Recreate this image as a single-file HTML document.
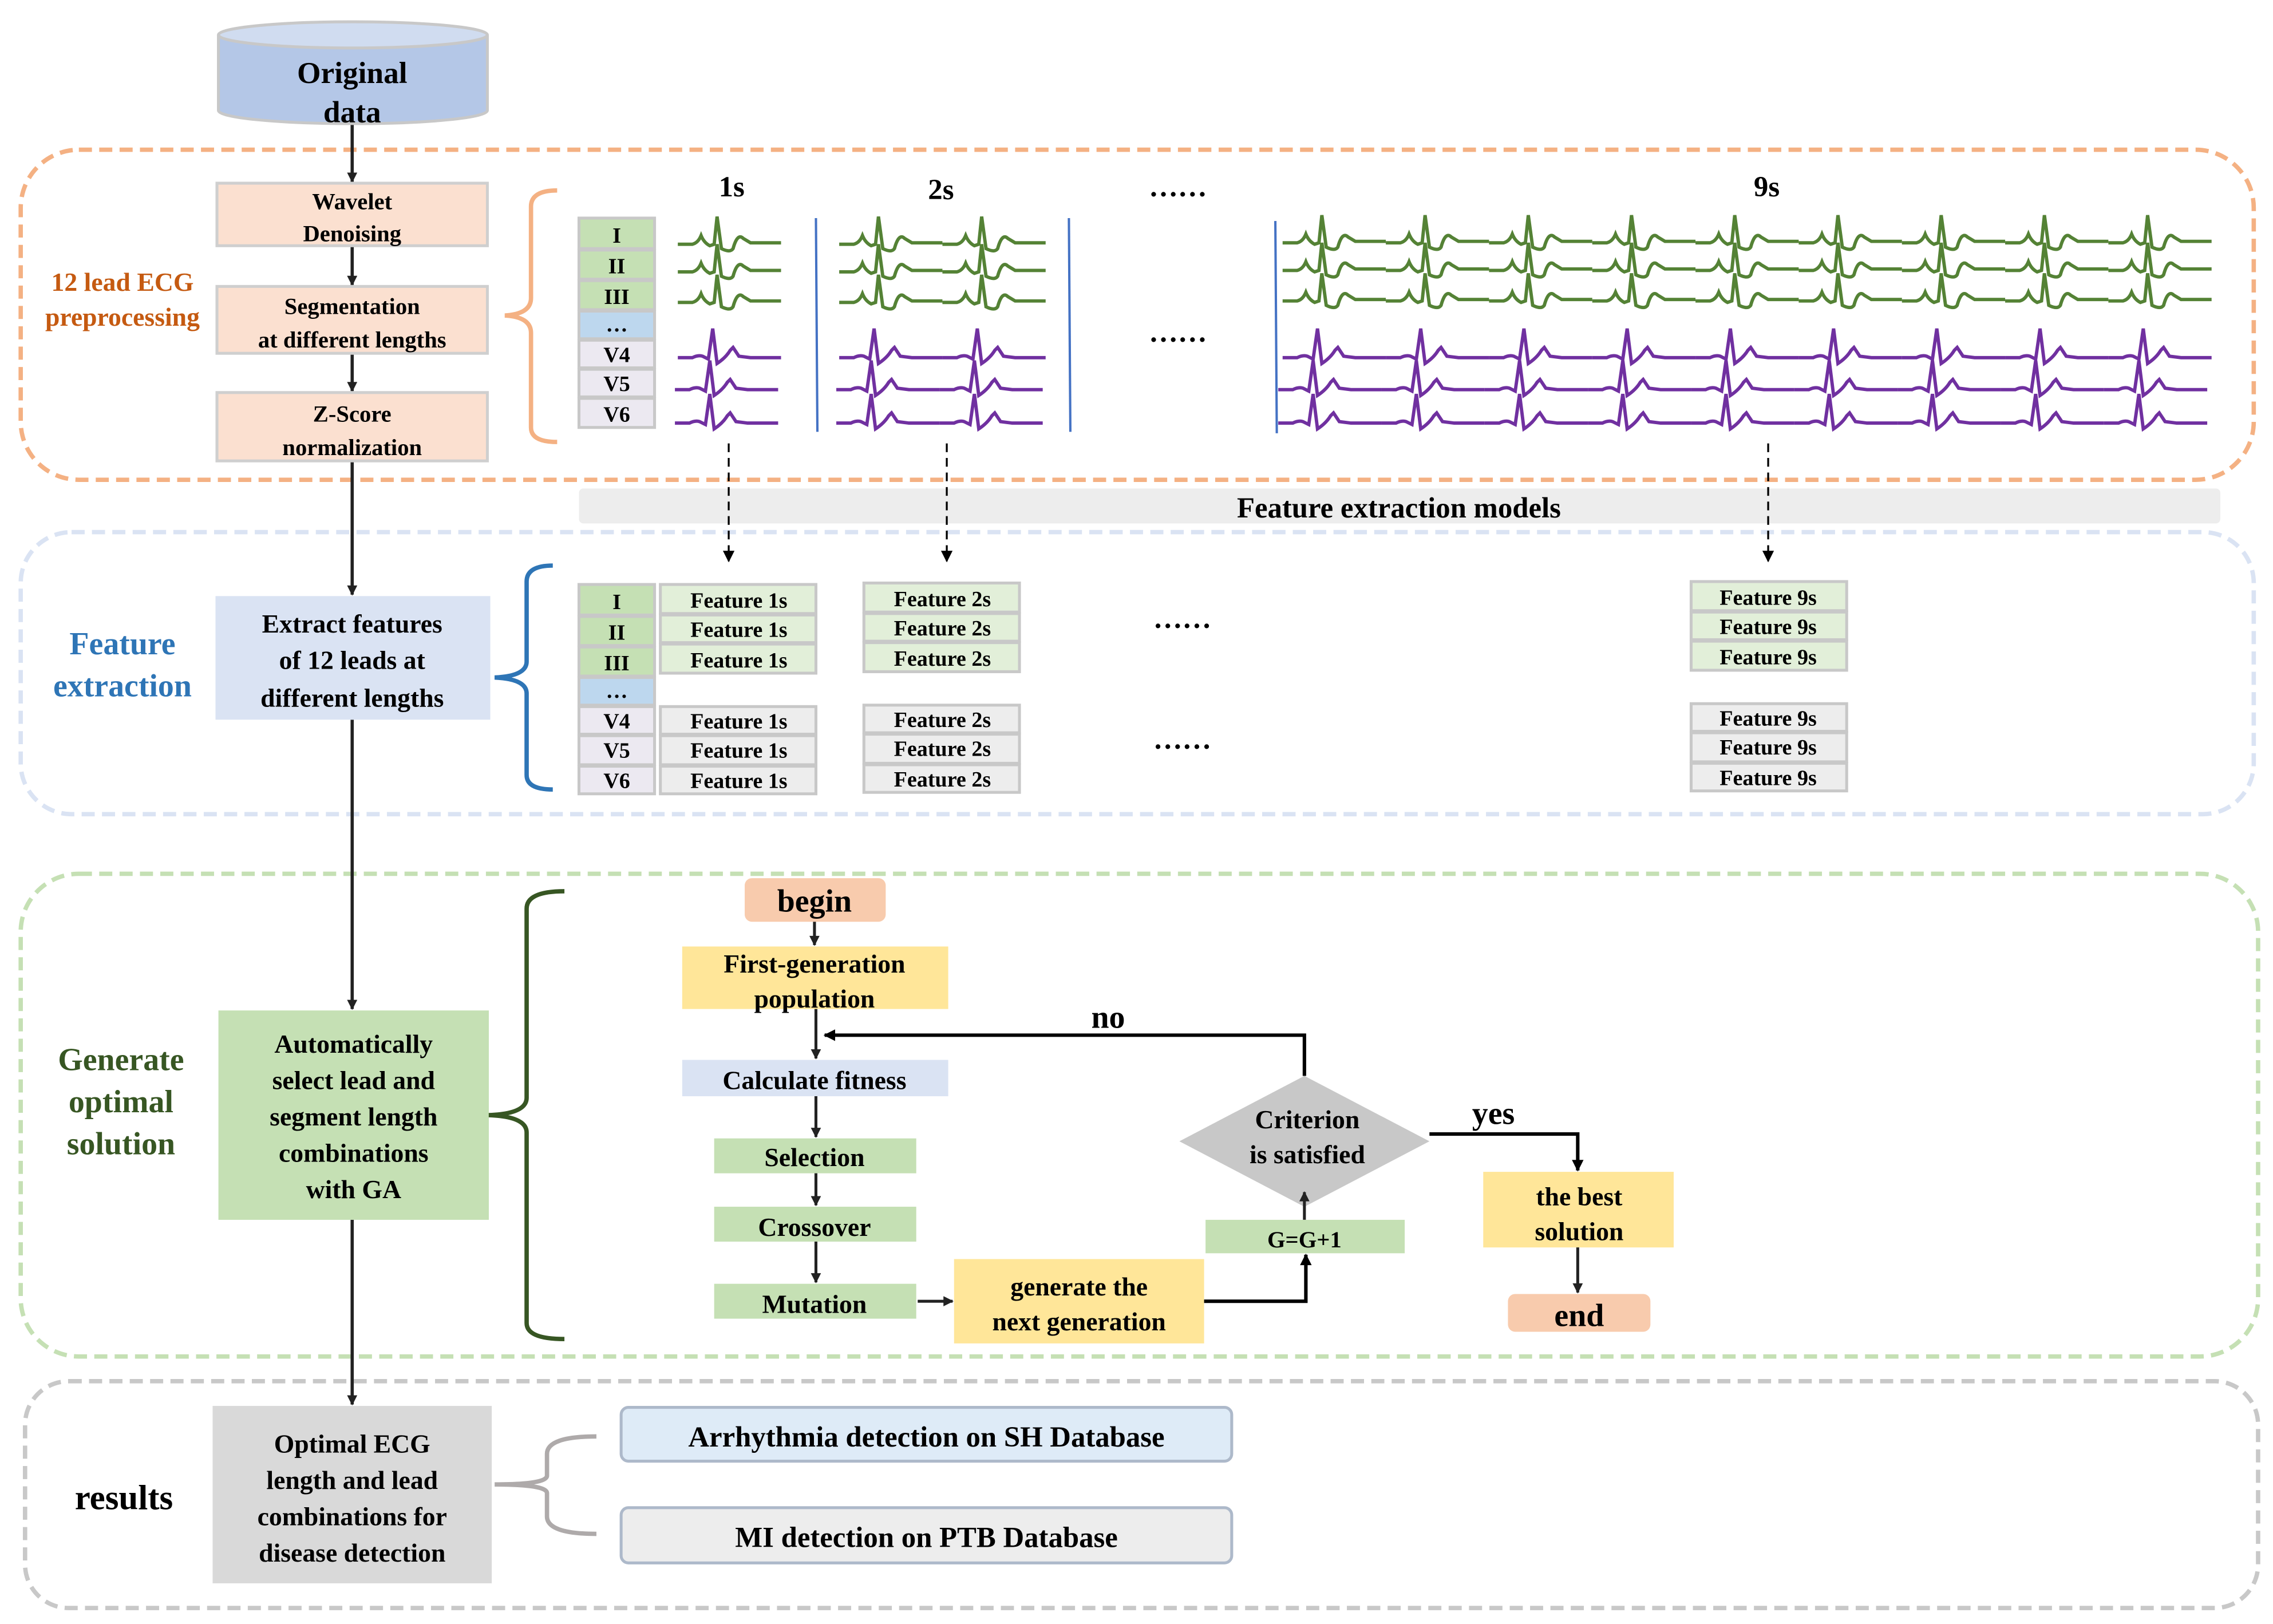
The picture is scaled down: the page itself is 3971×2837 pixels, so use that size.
<!DOCTYPE html>
<html><head><meta charset="utf-8"><style>
html,body{margin:0;padding:0;background:#fff}
svg{display:block}
text{font-family:"Liberation Serif","Times New Roman",serif;font-weight:bold;fill:#000;text-anchor:middle}
</style></head><body>
<svg width="3971" height="2837" viewBox="0 0 1563 1117" xmlns="http://www.w3.org/2000/svg">
<defs>
<marker id="ah" viewBox="0 0 10 10" refX="9" refY="5" markerWidth="9" markerHeight="7" orient="auto" markerUnits="userSpaceOnUse"><path d="M0,0 L10,5 L0,10 z" fill="#222"/></marker>
<marker id="ah2" viewBox="0 0 10 10" refX="9" refY="5" markerWidth="10" markerHeight="8" orient="auto" markerUnits="userSpaceOnUse"><path d="M0,0 L10,5 L0,10 z" fill="#000"/></marker>
<path id="bg" d="M0,0 L10,0 Q14,-1 16,-6 Q18,-1 22,1 L25,0 L27,-19 L30,3 Q36,6 38,3 Q41,-8 45,-4 L50,-1 L71,-1" fill="none" stroke="#548235" stroke-width="2.3"/>
<path id="bp" d="M0,0 L10,0 Q14,-2 17,-1 L21,1 L24,-20 L27,4 Q33,0 36,-5 L38,-7 L42,-1 L50,0 L71,0" fill="none" stroke="#7030a0" stroke-width="2.3"/>
</defs>

<rect x="14" y="103" width="1536" height="227" rx="40" fill="none" stroke="#f4b183" stroke-width="3" stroke-dasharray="9,5"/>
<rect x="14" y="366" width="1536" height="194" rx="35" fill="none" stroke="#dae3f3" stroke-width="3" stroke-dasharray="9,5"/>
<rect x="14" y="601" width="1539" height="332" rx="40" fill="none" stroke="#c5e0b4" stroke-width="3" stroke-dasharray="9,5"/>
<rect x="17" y="950" width="1536" height="156" rx="30" fill="none" stroke="#c8c8c8" stroke-width="3" stroke-dasharray="9,5"/>

<path d="M150,24 L150,76 A92,9 0 0 0 335,76 L335,24" fill="#b4c7e7" stroke="#c8c8c8" stroke-width="2"/>
<ellipse cx="242.5" cy="24" rx="92.5" ry="9" fill="#d0dcf0" stroke="#c8c8c8" stroke-width="2"/>
<text x="242" y="57" font-size="21">Original</text>
<text x="242" y="84" font-size="21">data</text>

<g stroke="#222" stroke-width="2.2" fill="none">
<line x1="242" y1="86" x2="242" y2="125" marker-end="url(#ah)"/>
<line x1="242" y1="169" x2="242" y2="196" marker-end="url(#ah)"/>
<line x1="242" y1="243" x2="242" y2="269" marker-end="url(#ah)"/>
<line x1="242" y1="317" x2="242" y2="409" marker-end="url(#ah)"/>
<line x1="242" y1="495" x2="242" y2="694" marker-end="url(#ah)"/>
<line x1="242" y1="839" x2="242" y2="966" marker-end="url(#ah)"/>
</g>

<g fill="#fbe0d0" stroke="#cfcfcf" stroke-width="2">
<rect x="149" y="126" width="186" height="43"/>
<rect x="149" y="197" width="186" height="46"/>
<rect x="149" y="270" width="186" height="47"/>
</g>
<text x="242" y="144" font-size="16">Wavelet</text>
<text x="242" y="166" font-size="16">Denoising</text>
<text x="242" y="216" font-size="16">Segmentation</text>
<text x="242" y="239" font-size="16">at different lengths</text>
<text x="242" y="290" font-size="16">Z-Score</text>
<text x="242" y="313" font-size="16">normalization</text>
<text x="84" y="200" font-size="18" style="fill:#c55a11">12 lead ECG</text>
<text x="84" y="224" font-size="18" style="fill:#c55a11">preprocessing</text>
<path d="M383,131 Q365,131 365,142 L365,205 Q365,216 347,217 Q365,218 365,229 L365,294 Q365,304 383,304" fill="none" stroke="#f4b183" stroke-width="3"/>

<g stroke="#c8c8c8" stroke-width="2">
<rect x="398" y="150" width="52" height="21" fill="#c5e0b4"/>
<rect x="398" y="172" width="52" height="20" fill="#c5e0b4"/>
<rect x="398" y="193" width="52" height="20" fill="#c5e0b4"/>
<rect x="398" y="214" width="52" height="19" fill="#bdd7ee"/>
<rect x="398" y="234" width="52" height="19" fill="#ece9f1"/>
<rect x="398" y="254" width="52" height="19" fill="#ece9f1"/>
<rect x="398" y="274" width="52" height="20" fill="#ece9f1"/>
</g>
<g font-size="15">
<text x="424" y="167">I</text><text x="424" y="188">II</text><text x="424" y="209">III</text>
<text x="424" y="228">…</text><text x="424" y="249">V4</text><text x="424" y="269">V5</text><text x="424" y="290">V6</text>
</g>

<text x="503" y="135" font-size="20">1s</text>
<text x="647" y="137" font-size="20">2s</text>
<text x="810" y="135" font-size="20">……</text>
<text x="810" y="235" font-size="20">……</text>
<text x="1215" y="135" font-size="20">9s</text>

<g stroke="#4472c4" stroke-width="1.6">
<line x1="561" y1="150" x2="562" y2="297"/>
<line x1="735" y1="150" x2="736" y2="297"/>
<line x1="877" y1="152" x2="878" y2="298"/>
</g>

<use href="#bg" x="466" y="168"/><use href="#bg" x="466" y="187"/><use href="#bg" x="466" y="208"/>
<use href="#bp" x="466" y="246"/><use href="#bp" x="464" y="268"/><use href="#bp" x="464" y="291"/>
<use href="#bg" x="577" y="168"/><use href="#bg" x="648" y="168"/>
<use href="#bg" x="577" y="187"/><use href="#bg" x="648" y="187"/>
<use href="#bg" x="577" y="208"/><use href="#bg" x="648" y="208"/>
<use href="#bp" x="577" y="246"/><use href="#bp" x="648" y="246"/>
<use href="#bp" x="575" y="268"/><use href="#bp" x="646" y="268"/>
<use href="#bp" x="575" y="291"/><use href="#bp" x="646" y="291"/>
<g>
<use href="#bg" x="882" y="167"/><use href="#bg" x="953" y="167"/><use href="#bg" x="1024" y="167"/><use href="#bg" x="1095" y="167"/><use href="#bg" x="1166" y="167"/><use href="#bg" x="1237" y="167"/><use href="#bg" x="1308" y="167"/><use href="#bg" x="1379" y="167"/><use href="#bg" x="1450" y="167"/>
<use href="#bg" x="882" y="186"/><use href="#bg" x="953" y="186"/><use href="#bg" x="1024" y="186"/><use href="#bg" x="1095" y="186"/><use href="#bg" x="1166" y="186"/><use href="#bg" x="1237" y="186"/><use href="#bg" x="1308" y="186"/><use href="#bg" x="1379" y="186"/><use href="#bg" x="1450" y="186"/>
<use href="#bg" x="882" y="207"/><use href="#bg" x="953" y="207"/><use href="#bg" x="1024" y="207"/><use href="#bg" x="1095" y="207"/><use href="#bg" x="1166" y="207"/><use href="#bg" x="1237" y="207"/><use href="#bg" x="1308" y="207"/><use href="#bg" x="1379" y="207"/><use href="#bg" x="1450" y="207"/>
<use href="#bp" x="882" y="246"/><use href="#bp" x="953" y="246"/><use href="#bp" x="1024" y="246"/><use href="#bp" x="1095" y="246"/><use href="#bp" x="1166" y="246"/><use href="#bp" x="1237" y="246"/><use href="#bp" x="1308" y="246"/><use href="#bp" x="1379" y="246"/><use href="#bp" x="1450" y="246"/>
<use href="#bp" x="879" y="268"/><use href="#bp" x="950" y="268"/><use href="#bp" x="1021" y="268"/><use href="#bp" x="1092" y="268"/><use href="#bp" x="1163" y="268"/><use href="#bp" x="1234" y="268"/><use href="#bp" x="1305" y="268"/><use href="#bp" x="1376" y="268"/><use href="#bp" x="1447" y="268"/>
<use href="#bp" x="879" y="291"/><use href="#bp" x="950" y="291"/><use href="#bp" x="1021" y="291"/><use href="#bp" x="1092" y="291"/><use href="#bp" x="1163" y="291"/><use href="#bp" x="1234" y="291"/><use href="#bp" x="1305" y="291"/><use href="#bp" x="1376" y="291"/><use href="#bp" x="1447" y="291"/>
</g>

<rect x="398" y="336" width="1129" height="24" rx="3" fill="#ededed"/>
<text x="962" y="356" font-size="20">Feature extraction models</text>
<g stroke="#000" stroke-width="1.3" stroke-dasharray="6,4" fill="none">
<line x1="501" y1="305" x2="501" y2="386" marker-end="url(#ah2)"/>
<line x1="651" y1="305" x2="651" y2="386" marker-end="url(#ah2)"/>
<line x1="1216" y1="305" x2="1216" y2="386" marker-end="url(#ah2)"/>
</g>

<rect x="148" y="410" width="189" height="85" fill="#dae3f3"/>
<text x="242" y="435" font-size="18">Extract features</text>
<text x="242" y="460" font-size="18">of 12 leads at</text>
<text x="242" y="486" font-size="18">different lengths</text>
<text x="84" y="450" font-size="22" style="fill:#2e75b6">Feature</text>
<text x="84" y="479" font-size="22" style="fill:#2e75b6">extraction</text>
<path d="M380,389 Q362,389 362,400 L362,455 Q362,465 340,466 Q362,467 362,477 L362,533 Q362,543 380,543" fill="none" stroke="#2e75b6" stroke-width="3"/>

<g stroke="#c8c8c8" stroke-width="2">
<rect x="398" y="402" width="52" height="21" fill="#c5e0b4"/>
<rect x="398" y="424" width="52" height="20" fill="#c5e0b4"/>
<rect x="398" y="445" width="52" height="20" fill="#c5e0b4"/>
<rect x="398" y="466" width="52" height="19" fill="#bdd7ee"/>
<rect x="398" y="486" width="52" height="19" fill="#ece9f1"/>
<rect x="398" y="506" width="52" height="20" fill="#ece9f1"/>
<rect x="398" y="527" width="52" height="19" fill="#ece9f1"/>
</g>
<g font-size="15">
<text x="424" y="419">I</text><text x="424" y="440">II</text><text x="424" y="461">III</text>
<text x="424" y="480">…</text><text x="424" y="501">V4</text><text x="424" y="521">V5</text><text x="424" y="542">V6</text>
</g>

<g stroke="#c8c8c8" stroke-width="2">
<rect x="454" y="402" width="107" height="20" fill="#e2efd9"/><rect x="454" y="423" width="107" height="19" fill="#e2efd9"/><rect x="454" y="443" width="107" height="20" fill="#e2efd9"/>
<rect x="454" y="486" width="107" height="19" fill="#ededed"/><rect x="454" y="506" width="107" height="20" fill="#ededed"/><rect x="454" y="527" width="107" height="19" fill="#ededed"/>
<rect x="594" y="401" width="107" height="20" fill="#e2efd9"/><rect x="594" y="422" width="107" height="19" fill="#e2efd9"/><rect x="594" y="442" width="107" height="20" fill="#e2efd9"/>
<rect x="594" y="485" width="107" height="19" fill="#ededed"/><rect x="594" y="505" width="107" height="20" fill="#ededed"/><rect x="594" y="526" width="107" height="19" fill="#ededed"/>
<rect x="1163" y="400" width="107" height="20" fill="#e2efd9"/><rect x="1163" y="421" width="107" height="19" fill="#e2efd9"/><rect x="1163" y="441" width="107" height="20" fill="#e2efd9"/>
<rect x="1163" y="484" width="107" height="19" fill="#ededed"/><rect x="1163" y="504" width="107" height="20" fill="#ededed"/><rect x="1163" y="525" width="107" height="19" fill="#ededed"/>
</g>
<g font-size="15">
<text x="508" y="418">Feature 1s</text><text x="508" y="438">Feature 1s</text><text x="508" y="459">Feature 1s</text>
<text x="508" y="501">Feature 1s</text><text x="508" y="521">Feature 1s</text><text x="508" y="542">Feature 1s</text>
<text x="648" y="417">Feature 2s</text><text x="648" y="437">Feature 2s</text><text x="648" y="458">Feature 2s</text>
<text x="648" y="500">Feature 2s</text><text x="648" y="520">Feature 2s</text><text x="648" y="541">Feature 2s</text>
<text x="1216" y="416">Feature 9s</text><text x="1216" y="436">Feature 9s</text><text x="1216" y="457">Feature 9s</text>
<text x="1216" y="499">Feature 9s</text><text x="1216" y="519">Feature 9s</text><text x="1216" y="540">Feature 9s</text>
</g>
<text x="813" y="432" font-size="20">……</text>
<text x="813" y="515" font-size="20">……</text>

<text x="83" y="736" font-size="22" style="fill:#375623">Generate</text>
<text x="83" y="765" font-size="22" style="fill:#375623">optimal</text>
<text x="83" y="794" font-size="22" style="fill:#375623">solution</text>
<rect x="150" y="695" width="186" height="144" fill="#c5e0b4"/>
<g font-size="18">
<text x="243" y="724">Automatically</text><text x="243" y="749">select lead and</text>
<text x="243" y="774">segment length</text><text x="243" y="799">combinations</text><text x="243" y="824">with GA</text>
</g>
<path d="M388,613 Q362,613 362,625 L362,755 Q362,766 336,767 Q362,768 362,779 L362,910 Q362,921 388,921" fill="none" stroke="#375623" stroke-width="3"/>

<rect x="512" y="604" width="97" height="30" rx="5" fill="#f8cbad"/>
<text x="560" y="627" font-size="22">begin</text>
<rect x="469" y="651" width="183" height="43" fill="#ffe699"/>
<text x="560" y="669" font-size="18">First-generation</text>
<text x="560" y="693" font-size="18">population</text>
<rect x="469" y="729" width="183" height="25" fill="#dae3f3"/>
<text x="560" y="749" font-size="18">Calculate fitness</text>
<rect x="491" y="783" width="139" height="24" fill="#c5e0b4"/>
<text x="560" y="802" font-size="18">Selection</text>
<rect x="491" y="830" width="139" height="24" fill="#c5e0b4"/>
<text x="560" y="850" font-size="18">Crossover</text>
<rect x="491" y="883" width="139" height="24" fill="#c5e0b4"/>
<text x="560" y="903" font-size="18">Mutation</text>
<rect x="656" y="866" width="172" height="58" fill="#ffe699"/>
<text x="742" y="891" font-size="18">generate the</text>
<text x="742" y="915" font-size="18">next generation</text>
<rect x="829" y="839" width="137" height="23" fill="#c5e0b4"/>
<text x="897" y="858" font-size="16">G=G+1</text>
<polygon points="897,740 983,785 897,830 811,785" fill="#c8c8c8"/>
<text x="899" y="776" font-size="18">Criterion</text>
<text x="899" y="800" font-size="18">is satisfied</text>
<rect x="1020" y="806" width="131" height="52" fill="#ffe699"/>
<text x="1086" y="829" font-size="18">the best</text>
<text x="1086" y="853" font-size="18">solution</text>
<rect x="1037" y="890" width="98" height="26" rx="5" fill="#f8cbad"/>
<text x="1086" y="912" font-size="22">end</text>

<g stroke="#222" stroke-width="2" fill="none">
<line x1="560" y1="634" x2="560" y2="650" marker-end="url(#ah)"/>
<line x1="561" y1="694" x2="561" y2="728" marker-end="url(#ah)"/>
<line x1="561" y1="754" x2="561" y2="782" marker-end="url(#ah)"/>
<line x1="561" y1="807" x2="561" y2="829" marker-end="url(#ah)"/>
<line x1="561" y1="854" x2="561" y2="882" marker-end="url(#ah)"/>
<line x1="631" y1="895" x2="655" y2="895" marker-end="url(#ah)"/>
<line x1="897" y1="839" x2="897" y2="820" marker-end="url(#ah)"/>
<line x1="1085" y1="858" x2="1085" y2="889" marker-end="url(#ah)"/>
</g>
<g stroke="#000" stroke-width="2.4" fill="none">
<polyline points="828,895 898,895 898,863" marker-end="url(#ah2)"/>
<polyline points="897,740 897,712 567,712" marker-end="url(#ah2)"/>
<polyline points="983,780 1085,780 1085,805" marker-end="url(#ah2)"/>
</g>
<text x="762" y="707" font-size="22">no</text>
<text x="1027" y="773" font-size="22">yes</text>

<text x="85" y="1038" font-size="24">results</text>
<rect x="146" y="967" width="192" height="122" fill="#d9d9d9"/>
<g font-size="18">
<text x="242" y="999">Optimal ECG</text><text x="242" y="1024">length and lead</text>
<text x="242" y="1049">combinations for</text><text x="242" y="1074">disease detection</text>
</g>
<path d="M410,988 Q376,988 376,1000 L376,1015 Q376,1021 340,1021 Q376,1021 376,1027 L376,1043 Q376,1055 410,1055" fill="none" stroke="#aeaaaa" stroke-width="3"/>
<rect x="427" y="968" width="420" height="37" rx="5" fill="#deebf7" stroke="#adb9ca" stroke-width="2"/>
<text x="637" y="995" font-size="20">Arrhythmia detection on SH Database</text>
<rect x="427" y="1037" width="420" height="38" rx="5" fill="#ededed" stroke="#adb9ca" stroke-width="2"/>
<text x="637" y="1064" font-size="20">MI detection on PTB Database</text>
</svg>
</body></html>
